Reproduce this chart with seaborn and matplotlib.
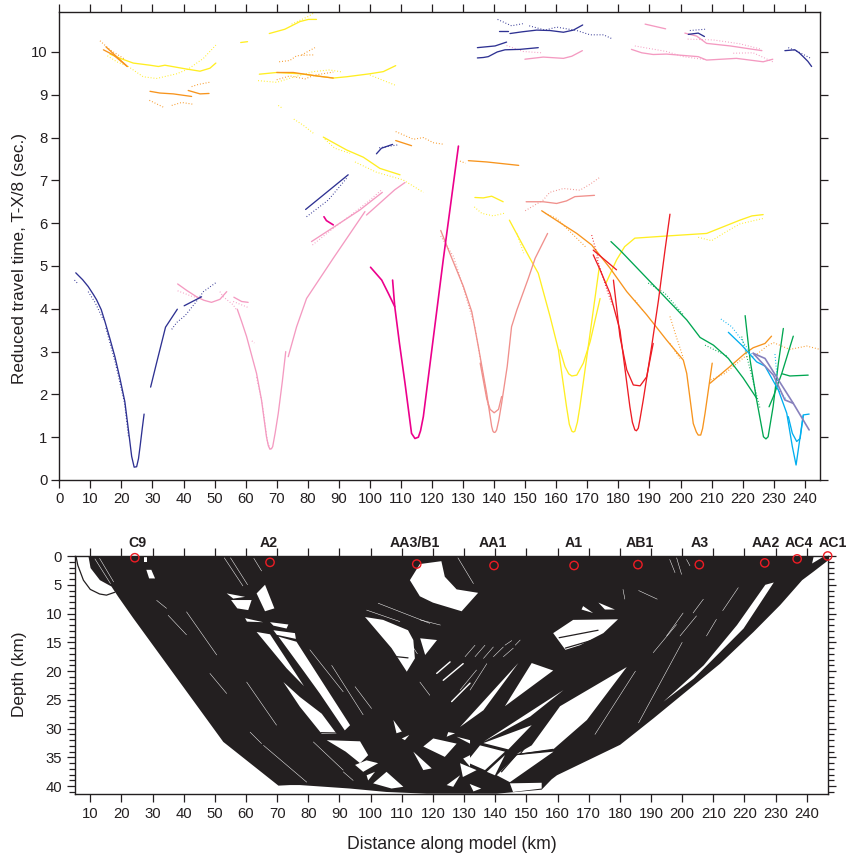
#!/usr/bin/env python3
"""Reduced travel time picks (top) and ray coverage with stations (bottom)."""
import matplotlib
matplotlib.use("Agg")
import matplotlib.pyplot as plt
import matplotlib.ticker as mticker
import pandas as pd
import seaborn as sns

sns.set_style("ticks")
plt.rcParams["font.family"] = ["Liberation Sans", "DejaVu Sans"]

INK = "#231f20"
NAVY = "#2e3192"
PINK = "#f49ac1"
MAGENTA = "#ec008c"
SALMON = "#f0908c"
YELLOW = "#ffee22"
ORANGE = "#f7941d"
RED = "#ed1c24"
GREEN = "#00a651"
CYAN = "#00aeef"
LAVENDER = "#8781bd"

# top panel: solid = calculated, dotted = picks, (distance km, T-X/8 s)
navy_solid = [
    [(5.3, 4.84), (7.5, 4.68), (9.3, 4.52), (11, 4.33), (12, 4.21), (13.5, 3.98), (14.7, 3.7),
     (16.3, 3.3), (17.9, 2.88), (19.5, 2.38), (21.1, 1.83), (22.2, 1.2), (23.3, 0.55),
     (24.1, 0.3), (24.9, 0.31), (25.5, 0.5), (26, 0.78), (26.7, 1.2), (27.3, 1.54)],
    [(29.4, 2.17), (31.3, 2.73), (34.2, 3.57), (38, 3.99)],
    [(40.2, 4.07), (45.8, 4.28)],
    [(79.3, 6.32), (93, 7.13)],
    [(102.1, 7.62), (103.7, 7.75), (107.3, 7.84)],
    [(141.4, 10.48), (144.6, 10.48)],
    [(145.1, 10.43), (149, 10.47), (153.7, 10.51), (158, 10.5), (162.3, 10.46), (165.5, 10.51),
     (168.5, 10.63)],
    [(134.6, 10.1), (140.3, 10.14), (144, 10.23)],
    [(134.6, 9.86), (136.5, 9.87), (138.1, 9.89), (141, 10), (143.5, 10.05), (148.3, 10.06),
     (154.2, 10.1)],
    [(202.5, 10.41), (205.7, 10.44), (207.7, 10.36)],
    [(233.6, 10.03), (236.8, 10.05), (238.2, 9.98), (239.5, 9.89), (241, 9.78), (242.2, 9.66)],
]
navy_dots = [
    [(4.9, 4.67), (5.8, 4.6)],
    [(9.3, 4.4), (11.5, 4.15), (14.2, 3.74)],
    [(15, 3.55), (18, 2.75), (21, 1.8), (22.3, 1.0)],
    [(36.2, 3.52), (37.8, 3.68), (40.5, 3.84), (43.7, 4.13), (46.4, 4.4), (50.6, 4.62)],
    [(79.6, 6.15), (86.6, 6.54), (92.5, 7.05)],
    [(103, 7.76), (109.1, 7.83)],
    [(141.1, 10.76), (145.6, 10.61), (149.2, 10.66)],
    [(151.3, 10.61), (156.4, 10.51), (160.1, 10.58), (166.6, 10.5), (170.9, 10.4),
     (175.2, 10.4), (178.2, 10.3)],
    [(203, 10.5), (207.9, 10.53)],
    [(234.7, 10.1), (238, 10.0), (242.2, 9.84)],
]
pink_solid = [
    [(38.1, 4.58), (41, 4.43), (44.2, 4.28), (46.5, 4.2), (49, 4.15), (51.7, 4.22), (53.9, 4.4)],
    [(56.2, 4.27), (58.7, 4.17), (60.8, 4.15)],
    [(57.3, 3.99), (58.7, 3.7), (60.3, 3.35), (63.5, 2.49), (65.1, 1.87), (66.7, 1.01),
     (67.3, 0.8), (67.8, 0.72), (68.3, 0.73), (68.7, 0.78), (69.5, 1.1), (70.5, 1.56),
     (71.8, 2.3), (72.9, 3)],
    [(73.7, 2.88), (76.4, 3.58), (79.6, 4.24), (88.2, 5.18), (98.4, 6.27)],
    [(98.9, 6.19), (104.3, 6.54), (108, 6.78), (111.3, 6.95)],
    [(81.2, 5.57), (88.2, 5.9), (96.8, 6.31), (104, 6.72)],
    [(149.9, 9.83), (155.8, 9.88), (162.3, 9.85), (165, 9.9), (168.4, 10.03)],
    [(184.2, 10.06), (187.5, 9.98), (191.2, 9.94), (195.5, 9.95), (205.7, 9.89), (208.4, 9.81),
     (218, 9.85), (226.6, 9.77), (229.7, 9.83)],
    [(188.6, 10.65), (195.2, 10.54)],
    [(201.4, 10.44), (205.2, 10.37), (208.4, 10.2), (216, 10.14), (226.2, 10.03)],
]
pink_dots = [
    [(38.1, 4.42), (43.1, 4.28), (46, 4.25)],
    [(51.7, 4.4), (52.8, 4.28), (56, 4.09), (57.1, 3.97)],
    [(56, 4.17), (60.8, 4.03)],
    [(62, 3.25), (62.8, 3.2)],
    [(63.5, 2.4), (65.3, 1.8), (67, 0.9), (68, 0.7)],
    [(81.5, 5.49), (88.2, 5.88), (94.6, 6.23), (100, 6.54), (103.8, 6.78)],
    [(144, 10.15), (149.4, 10.01), (155.3, 9.98)],
    [(185.3, 10.14), (195.5, 10.01), (200.9, 9.89), (208, 9.82)],
    [(217, 9.97), (223.4, 9.98), (229.7, 9.77)],
    [(202.3, 10.3), (210.6, 10.28), (219.1, 10.19), (226.2, 10.06)],
]
magenta_solid = [
    [(100.2, 4.97), (103.8, 4.67), (106, 4.35), (108, 4.05), (109.5, 3.2), (111.3, 2.26),
     (113.4, 1.09), (114.5, 0.97), (115.6, 1), (116.3, 1.15), (117.2, 1.48), (120.4, 3.31),
     (123.6, 5.14), (128.5, 7.8)],
    [(107.3, 4.67), (108, 4.05)],
    [(85.2, 6.15), (86, 6.06), (88.2, 5.96)],
]
salmon_solid = [
    [(122.8, 5.83), (125.3, 5.37), (130.1, 4.52), (132.8, 3.93), (134.9, 3.12), (137.6, 2.02),
     (139.2, 1.25), (139.6, 1.14), (140, 1.11), (140.4, 1.12), (140.8, 1.17), (141.5, 1.4),
     (142.4, 1.79), (144.2, 2.65), (145.6, 3.58), (147.3, 3.97), (151, 4.71), (153.2, 5.18),
     (157.2, 5.76)],
    [(135.5, 2.73), (137.6, 1.9), (138.7, 1.65), (140, 1.57), (141.4, 1.65), (142.4, 1.95)],
    [(150.3, 6.5), (155.8, 6.5), (160.1, 6.46), (163.3, 6.52), (166, 6.62), (172.3, 6.65)],
]
salmon_dots = [
    [(122.8, 5.7), (126.9, 5.22), (129, 4.75), (133.8, 3.58), (138.1, 1.71)],
    [(150, 6.29), (155.8, 6.54), (157.9, 6.72), (162.3, 6.81), (167.6, 6.77), (170.9, 6.91),
     (173.8, 7.06)],
]
yellow_solid = [
    [(16.3, 9.95), (20, 9.84), (23.8, 9.74), (29.2, 9.69), (31.9, 9.66), (34, 9.69), (41, 9.6),
     (45.3, 9.55), (48.5, 9.62), (50.4, 9.74)],
    [(58.4, 10.22), (60.6, 10.24)],
    [(67.6, 10.43), (72.6, 10.53), (77.5, 10.71), (80.2, 10.76), (82.8, 10.76)],
    [(64.4, 9.48), (70, 9.52), (77.5, 9.49), (88.2, 9.39), (92.5, 9.42), (100, 9.49),
     (104.3, 9.54), (108.3, 9.68)],
    [(85, 8.01), (92.5, 7.71), (97.9, 7.54), (103.2, 7.28), (109.7, 7.13)],
    [(133.8, 6.6), (136.5, 6.59), (139.2, 6.63), (142.9, 6.5)],
    [(144.9, 6.07), (148.3, 5.61), (151.5, 5.18), (154.2, 4.83), (158, 3.82), (160.7, 3.04),
     (163.3, 1.71), (164.2, 1.3), (165, 1.14), (165.5, 1.12), (166, 1.14), (166.8, 1.35),
     (167.6, 1.71), (170.3, 3.12), (173.8, 4.95)],
    [(161.2, 3.04), (162.8, 2.65), (164, 2.48), (165, 2.43), (166.6, 2.45), (168.7, 2.73),
     (170.9, 3.23), (174.1, 4.24)],
    [(176, 4.6), (179.4, 5.14), (182, 5.45), (185.3, 5.65), (195.5, 5.7), (208.4, 5.76),
     (219.1, 6.07), (223, 6.17), (226.6, 6.2)],
]
yellow_dots = [
    [(15.5, 9.91), (18.5, 9.77), (22.2, 9.66), (27, 9.42), (31.3, 9.38), (37.8, 9.49),
     (41.5, 9.6), (46.4, 9.85), (50.4, 10.16)],
    [(74.8, 10.65), (80.2, 10.83), (83, 10.96)],
    [(64, 9.33), (70, 9.29), (75.3, 9.41), (81.8, 9.54), (87, 9.58), (91.2, 9.53)],
    [(100, 9.46), (108.6, 9.21)],
    [(70.5, 8.75), (71.9, 8.68)],
    [(75.5, 8.43), (78.5, 8.29), (81.8, 8.1)],
    [(85.5, 7.96), (88.7, 7.75), (93.6, 7.63)],
    [(95.2, 7.43), (102.1, 7.19), (110.7, 7.01), (117.2, 6.72)],
    [(133.6, 6.38), (136, 6.23), (139.7, 6.17), (143.2, 6.23)],
    [(147.3, 5.76), (149.5, 5.3)],
    [(205.7, 5.67), (210, 5.59), (213.8, 5.76), (219, 5.98), (226.6, 6.11)],
]
orange_solid = [
    [(14.2, 10.05), (17.4, 9.93), (21.9, 9.66)],
    [(15, 10.12), (21.9, 9.66)],
    [(29.2, 9.08), (32.4, 9.04), (36.7, 9.02), (42.6, 8.96)],
    [(41.5, 9.1), (45.3, 9.02), (48.2, 9.03)],
    [(70, 9.52), (75.3, 9.52), (82.8, 9.44), (88.2, 9.39)],
    [(108.3, 7.93), (113.4, 7.81)],
    [(131.7, 7.46), (137.6, 7.43), (147.9, 7.35)],
    [(155.3, 6.29), (162.3, 5.96), (166.6, 5.76), (171.4, 5.49), (177.3, 4.95), (182.7, 4.4),
     (189.1, 3.86), (195.5, 3.27), (200.9, 2.8), (202, 2.49), (204.1, 1.32), (205.1, 1.12),
     (205.7, 1.05), (206.5, 1.05), (207.1, 1.2), (207.9, 1.56), (210.2, 2.73)],
    [(209.5, 2.26), (215.9, 2.65), (220.8, 2.96), (223.4, 3.09), (227.2, 3.19), (229.3, 3.36)],
]
orange_dots = [
    [(13.1, 10.26), (16.3, 10.05), (21.1, 9.83)],
    [(42.6, 9.19), (44.7, 9.24), (48.3, 9.29)],
    [(29, 8.87), (33.5, 8.71)],
    [(36.2, 8.75), (39.4, 8.82), (42.9, 8.78)],
    [(70.8, 9.77), (74.2, 9.8), (76.4, 9.91), (80.2, 9.93), (82.3, 9.93)],
    [(78, 9.93), (82.3, 10.1)],
    [(70, 9.35), (74.2, 9.44), (79.1, 9.37), (82.3, 9.46), (88.2, 9.53)],
    [(108.3, 8.14), (114, 7.96), (117.2, 8), (120.4, 7.88), (124, 7.84)],
    [(129, 7.45), (130.8, 7.4)],
    [(156.4, 6.23), (160.1, 6.11), (169.8, 5.42)],
    [(185.3, 4.2), (188, 3.95)],
    [(196.6, 3.82), (198.8, 3.31), (200.9, 2.85)],
    [(196.6, 3.19), (199.8, 2.84)],
    [(209.7, 2.34), (214.3, 2.49), (220.7, 2.88), (223.4, 2.87), (227.7, 3.12), (229.9, 3.21),
     (235.2, 3.05), (240.6, 3.13), (244.9, 3.05)],
]
red_solid = [
    [(196.6, 6.21), (195, 5.37), (192.9, 4.2), (190.7, 3.12), (188, 1.87), (186.9, 1.4),
     (186.4, 1.21), (185.8, 1.15), (185.3, 1.17), (184.5, 1.35), (183.7, 1.71), (180.5, 3.5),
     (177.3, 4.36), (174.1, 4.91), (171.9, 5.26)],
    [(178.4, 4.67), (180.5, 3.35), (182.7, 2.57), (184.8, 2.22), (187, 2.2), (189.1, 2.41),
     (191.2, 3.19)],
    [(171.9, 5.37), (179.4, 4.91)],
]
red_dots = [
    [(171.4, 5.72), (173.5, 5.18)],
    [(173, 5.2), (176.5, 4.4), (178, 4.1)],
]
green_solid = [
    [(177.6, 5.57), (180.5, 5.37), (191.2, 4.56), (202, 3.74), (206.3, 3.33), (210.6, 3.15),
     (215.4, 2.84), (220.2, 2.38), (224.5, 1.91)],
    [(220.8, 3.84), (222.4, 2.8), (224.5, 1.87), (226.7, 1.01), (227.5, 0.96), (228.2, 1.01),
     (229.8, 1.71), (231.5, 2.73), (233.1, 3.54)],
    [(228.5, 1.71), (229.9, 1.95), (232.6, 2.49), (236.3, 3.36)],
    [(232.8, 2.48), (235.2, 2.43), (241.1, 2.45)],
]
green_dots = [
    [(189.6, 4.6), (195, 4.36), (200.9, 3.86)],
    [(207.9, 3.15), (215.4, 2.88)],
    [(219.7, 3.35), (225.6, 1.67)],
]
cyan_solid = [
    [(215.4, 3.45), (219.7, 3.15), (224.5, 2.76), (227.2, 2.66), (231.5, 2.1), (234.2, 1.56),
     (236, 0.78), (237.2, 0.35), (237.9, 0.7), (239.5, 1.52), (241.4, 1.54)],
    [(234.7, 1.48), (236, 1.09), (237.4, 0.9), (238.5, 0.97), (239.5, 1.5)],
]
cyan_dots = [
    [(213, 3.76), (216.5, 3.58), (219.7, 3.27), (223.4, 2.88)],
    [(230.4, 2.94), (231.5, 2.1), (234.2, 1.87)],
]
lavender_solid = [
    [(223.4, 2.96), (227.2, 2.84), (231.5, 2.34), (236.3, 1.79), (241.4, 1.17)],
    [(223.4, 2.96), (229.9, 2.45), (233.6, 1.87), (236.3, 1.79)],
]

# bottom panel: outline of the ray coverage (distance km, depth km)
coverage_outline = [
    (9.4, 0), (10.1, 2.1), (13.1, 4.2), (16.8, 5.3), (19, 7.1), (23.8, 10.8), (52.7, 32.3),
    (70.4, 39.9), (74.1, 39.8), (77.3, 39.8), (93.3, 40.4), (105.1, 41), (118, 41.3),
    (140.5, 41.3), (154.9, 40.6), (158.1, 38.8), (159.8, 38.1), (180.1, 32.8), (190.8, 28.2),
    (212.2, 18.7), (222.9, 13.2), (231.5, 8.5), (238.5, 4.2), (242.2, 2.7), (247, 0.7), (247, 0),
]
# gaps in the coverage
coverage_gaps = [
    [(112.6, 4.2), (115.8, 1.4), (122.7, 0.9), (123.8, 3.6), (127.6, 5.8), (134.5, 6.4),
     (129.2, 9.6), (120, 8.1), (115.8, 7)],
    [(55.2, 7.65), (61.8, 7.65), (60.7, 9.4), (57.2, 9.1)],
    [(53.8, 6.5), (59.7, 7.1), (55.9, 7.4)],
    [(63.4, 6.5), (66.1, 5), (69.1, 9.1), (66.1, 9.6)],
    [(59.7, 10.8), (65.5, 11.5), (60.3, 11.4)],
    [(67.7, 11.5), (73.6, 11.9), (73, 12.6), (68.8, 12.1)],
    [(63.4, 13.2), (67.7, 13.6), (78.6, 22.6), (73, 19.5)],
    [(68.8, 12.9), (75.7, 13.4), (76, 14.4), (69.9, 13.7)],
    [(70.4, 14), (76.2, 14.9), (93.4, 29.4), (91.7, 30.3), (83.7, 23.9), (78.5, 20)],
    [(72, 21.9), (77.3, 24.5), (84.3, 27.4), (89.1, 30.9), (84.3, 30.9), (77.3, 26.2)],
    [(98.2, 10.6), (106.7, 16), (111.6, 20.1), (114.2, 17.8), (113.7, 14.6), (112, 12.9),
     (104, 11.1)],
    [(115.9, 14.3), (121.3, 14.6), (117.5, 17.2)],
    [(85.9, 32), (96.6, 32.2), (99.2, 34.6), (96.6, 36), (92, 34)],
    [(95, 36.3), (98.7, 35.5), (102.4, 36), (97.6, 37.5)],
    [(98.7, 38.1), (101.4, 37.5), (99.2, 39)],
    [(100.8, 39.5), (105.1, 37.5), (110.5, 40.1), (106.7, 40.4)],
    [(113.7, 34), (119.6, 36.9), (116.9, 37.2)],
    [(116.9, 33.1), (120.1, 31.7), (127.6, 32.6), (123.8, 34.9)],
    [(107.3, 28.5), (110, 30.5), (108.3, 30.8)],
    [(110, 31.7), (112.4, 31.1), (111, 32)],
    [(124.4, 39.8), (128.7, 38.1), (126.5, 40.1)],
    [(124.9, 30.6), (127.1, 30.8), (124.4, 31.4)],
    [(128.7, 29.7), (147.4, 18.6), (136.2, 26.8)],
    [(127.6, 31.4), (131.9, 32), (131.9, 32.6)],
    [(129.7, 35.2), (131.9, 34.6), (131.9, 36.6)],
    [(143.1, 26.1), (151.7, 18.6), (158.6, 19.9)],
    [(136.2, 32.3), (161.9, 23.3), (151.2, 27.9)],
    [(160.8, 26.1), (182.2, 19.3), (169.4, 28.5), (158.6, 33.6), (146.9, 34.4), (151.7, 32.9),
     (157.6, 28.5)],
    [(144.7, 39.3), (158.7, 34), (146.9, 34.6), (140.5, 38.1)],
    [(136.2, 32.5), (151.7, 29.4), (144.2, 33.6)],
    [(130.8, 35.8), (135.1, 32.9), (143.1, 34), (136.7, 37.2)],
    [(137.3, 37.5), (143.1, 34.6), (139.9, 38.1)],
    [(128.7, 36), (134, 37.2), (129.6, 38.4)],
    [(131.8, 39.6), (135.5, 40.4), (133, 40.9)],
    [(144.7, 39.5), (154.9, 39.4), (154.9, 40.4), (145.7, 41)],
    [(226.7, 5), (229.4, 4.6), (219.7, 12.6), (203.7, 21.3), (194, 25.3), (206.9, 19), (217.6, 12)],
    [(158.6, 13.4), (165, 11.1), (179.4, 11), (174.7, 13.4), (167.2, 15.5), (162.5, 16.3),
     (160.2, 14.6)],
    [(168.2, 8.7), (171.4, 9.9), (167.7, 9.3)],
    [(173.1, 8.1), (178.4, 9.3), (175.2, 9.3)],
    [(242.2, 0.1), (245.4, 0.1), (241.7, 1.3)],
    [(27.2, 0.1), (28.2, 0.1), (28.2, 1), (27.2, 1)],
    [(28, 2.4), (29.6, 2.4), (30.8, 3.9), (28.9, 3.9)],
]
# single rays drawn over the coverage
white_rays = [
    [(48.4, 20.4), (53.8, 23.9)], [(61.3, 30.6), (65, 32.6)], [(65.6, 32.9), (79.5, 39.3)],
    [(35, 10.3), (40.9, 13.7)], [(31.3, 7.7), (34.5, 9.1)], [(40.9, 9.7), (50.6, 17.2)],
    [(60.2, 21.9), (69.8, 29.4)], [(80.5, 16.3), (91.2, 23.6)], [(87.5, 19), (97.6, 27.6)],
    [(95, 22.7), (100.3, 26.5)], [(81.6, 32.3), (91.2, 37.2)], [(91.2, 37.5), (94.4, 39)],
    [(98.7, 9.4), (109.4, 11.4)], [(102.4, 8.2), (119, 11.7)], [(115.9, 11.1), (122.4, 12)],
    [(62.5, 0.4), (65, 2.6)], [(53, 0.3), (59, 5.2)], [(55, 0.3), (60.5, 5)],
    [(11.5, 0.5), (16.5, 4.8)], [(13, 0.4), (17.5, 4.5)], [(128, 0.3), (133, 4.8)],
    [(196, 0.6), (197.7, 2.9)], [(198.2, 0.3), (199.8, 3.2)], [(201.4, 0.6), (202.5, 1.7)],
    [(181, 5.8), (181.6, 7.5)], [(186, 6), (192, 7.5)], [(195, 13.9), (200.3, 9.9)],
    [(199.3, 13.9), (204.6, 10.4)], [(190.7, 16.8), (198.2, 11.9)], [(207.8, 13.9), (211, 11)],
    [(203.5, 9.9), (206.8, 7.5)], [(213, 9.5), (218, 5.5)], [(172, 31), (185, 20)],
    [(186, 29), (200, 15)], [(130.3, 17.5), (133.5, 15.5)], [(133.5, 17.5), (136.7, 15.5)],
    [(136.2, 17.8), (139.4, 15.8)], [(139.4, 17.5), (142.6, 15.8)], [(142.6, 17.5), (145.8, 16)],
    [(143.1, 15.5), (145.3, 14.7)], [(146.4, 15.5), (148, 14.6)], [(128.7, 23.3), (134, 19.8)],
    [(131.9, 23.3), (137.3, 18.7)], [(115.8, 21.9), (119, 24.2)], [(110, 14.6), (113, 17)],
    [(112, 14.5), (115, 17)],
]
white_slits = [
    [(121.2, 20.4), (125.5, 18.4)], [(123.3, 21.6), (129.7, 18.7)], [(126, 25.3), (131.9, 22.1)],
]
black_rays = [
    [(5.4, 0), (6, 1.6), (7.8, 4.2), (10, 5.8), (13, 6.6), (15.2, 6.8), (17.9, 6.3)],
    [(160.5, 14.2), (173, 12.9)], [(162.5, 16), (172, 14.5)],
    [(106.7, 17.4), (112, 17.7)], [(84, 30.7), (93, 30.8)],
    [(148, 34.4), (158, 27)], [(146.9, 34.5), (158.6, 33.6)], [(142, 37.5), (147, 34.4)],
]

# stations
station_names = ["C9", "A2", "AA3/B1", "AA1", "A1", "AB1", "A3", "AA2", "AC4", "AC1"]
station_km = [24.3, 67.7, 114.8, 139.6, 165.3, 185.8, 205.5, 226.5, 236.9, 246.7]
station_depth = [0.3, 1.1, 1.4, 1.65, 1.65, 1.5, 1.5, 1.2, 0.5, 0]
label_km = [25, 67.4, 114.2, 139.3, 165.3, 186.4, 205.7, 227, 237.5, 248.4]

top_yticks = list(range(0, 11))
top_xticks = list(range(0, 250, 10))
bottom_xticks = list(range(10, 250, 10))
bottom_yticks = list(range(0, 45, 5))


def draw_segments(ax, segments, color, lw=0.95, dotted=False):
    rows = [(i, x, y) for i, seg in enumerate(segments) for x, y in seg]
    frame = pd.DataFrame(rows, columns=["seg", "x", "y"])
    style = (0, (0.8, 1.8)) if dotted else "-"
    sns.lineplot(data=frame, x="x", y="y", units="seg", estimator=None, sort=False,
                 color=color, linewidth=lw, linestyle=style, legend=False, ax=ax)


W, H = 847, 856
fig = plt.figure(figsize=(W / 100, H / 100), dpi=100)
ax_top = fig.add_axes([59.3 / W, 1 - 480 / H, 761 / W, 468.3 / H])
ax_bot = fig.add_axes([75.3 / W, 1 - 793.7 / H, 753 / W, 237.7 / H])

# travel times --------------------------------------------------------------
series = [
    (pink_solid, pink_dots, PINK), (navy_solid, navy_dots, NAVY),
    (yellow_solid, yellow_dots, YELLOW), (salmon_solid, salmon_dots, SALMON),
    (orange_solid, orange_dots, ORANGE), (green_solid, green_dots, GREEN),
    (red_solid, red_dots, RED), (cyan_solid, cyan_dots, CYAN),
]
for solid, dots, color in series:
    draw_segments(ax_top, dots, color, lw=0.8, dotted=True)
    draw_segments(ax_top, solid, color)
draw_segments(ax_top, magenta_solid, MAGENTA, lw=1.2)
draw_segments(ax_top, lavender_solid, LAVENDER, lw=1.2)

ax_top.set_xlim(0, 245)
ax_top.set_ylim(0, 10.94)
ax_top.set_xticks(top_xticks)
ax_top.set_yticks(top_yticks)
ax_top.tick_params(top=True, right=True, direction="out", length=5.5, width=0.9, color=INK,
                   labelsize=10.7, labelcolor=INK, pad=3)
ax_top.set_xlabel("")
ax_top.set_ylabel("Reduced travel time, T-X/8 (sec.)", fontsize=12.3, color=INK)
ax_top.yaxis.set_label_coords(-0.0424, 0.472)

# ray coverage --------------------------------------------------------------
ax_bot.fill(*zip(*coverage_outline), color=INK, lw=0)
for gap in coverage_gaps:
    ax_bot.fill(*zip(*gap), color="white", lw=0)
draw_segments(ax_bot, white_rays, "white", lw=0.35)
draw_segments(ax_bot, white_slits, "white", lw=1.0)
draw_segments(ax_bot, black_rays, INK, lw=0.9)

station_frame = pd.DataFrame({"km": station_km, "depth": station_depth})
sns.scatterplot(data=station_frame, x="km", y="depth", s=36, facecolor="none",
                edgecolor=RED, linewidth=1.0, clip_on=False, zorder=5, ax=ax_bot)
for name, km in zip(station_names, label_km):
    ax_bot.text(km, -2.2, name, ha="center", va="center", fontsize=10.2, fontweight="bold",
                color=INK)

ax_bot.set_xlim(5.2, 246.9)
ax_bot.set_ylim(41.3, 0)
ax_bot.set_xticks(bottom_xticks)
ax_bot.set_yticks(bottom_yticks)
ax_bot.yaxis.set_minor_locator(mticker.MultipleLocator(1))
ax_bot.tick_params(axis="both", which="major", top=True, right=True, direction="out",
                   length=5.5, width=0.9, color=INK, labelsize=10.7, labelcolor=INK, pad=4)
ax_bot.tick_params(axis="y", which="minor", right=True, direction="out", length=4, width=0.9,
                   color=INK)
ax_bot.set_xlabel("Distance along model (km)", fontsize=12.7, color=INK, labelpad=11)
ax_bot.set_ylabel("Depth (km)", fontsize=12.4, color=INK)
ax_bot.yaxis.set_label_coords(-0.0641, 0.5015)

for ax in (ax_top, ax_bot):
    for spine in ax.spines.values():
        spine.set_visible(True)
        spine.set_color(INK)
        spine.set_linewidth(1.0)

fig.savefig("out.png", dpi=100)
